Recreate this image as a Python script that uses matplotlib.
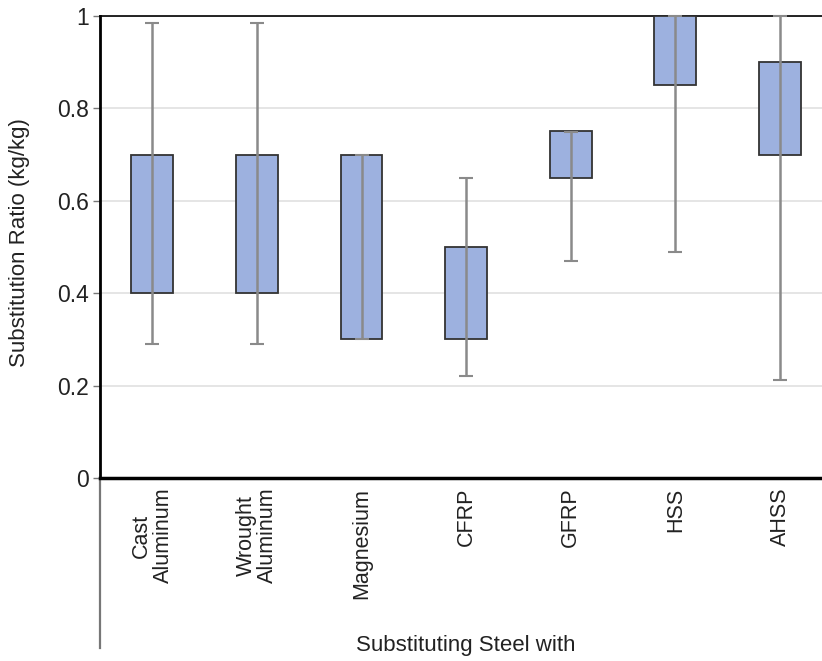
import matplotlib
matplotlib.use("Agg")
import matplotlib.pyplot as plt
from matplotlib.lines import Line2D
import numpy as np

plt.rcParams['font.family'] = ['Liberation Sans', 'DejaVu Sans']

# data
categories = ["Cast\nAluminum", "Wrought\nAluminum", "Magnesium", "CFRP", "GFRP", "HSS", "AHSS"]
box_low = [0.40, 0.40, 0.30, 0.30, 0.65, 0.85, 0.70]
box_high = [0.70, 0.70, 0.70, 0.50, 0.75, 1.00, 0.90]
whisk_low = [0.29, 0.29, 0.30, 0.22, 0.47, 0.49, 0.213]
whisk_high = [0.985, 0.985, 0.70, 0.65, 0.75, 1.00, 1.00]

x = np.arange(len(categories))
lo = np.array(box_low)
hi = np.array(box_high)

fig = plt.figure(figsize=(8.22, 6.61), dpi=100)
ax = fig.add_axes([100/822, 1 - 478/661, 1 - 100/822, 462/661])

ax.bar(x, hi - lo, bottom=lo, width=0.40, color="#9db1df",
       edgecolor="#333333", linewidth=1.3, zorder=3)

mid = (lo + hi) / 2
ax.errorbar(x, mid, yerr=[mid - np.array(whisk_low), np.array(whisk_high) - mid],
            fmt="none", ecolor="#8a8a8a", elinewidth=1.8, capsize=5, capthick=1.5,
            zorder=4, clip_on=False)

ax.set_ylim(0, 1)
ax.set_xlim(-0.5, (822 - 152) / 104.67)
ax.set_yticks([0, 0.2, 0.4, 0.6, 0.8, 1])
ax.set_yticklabels(["0", "0.2", "0.4", "0.6", "0.8", "1"])
ax.yaxis.grid(True, color="#e3e3e3", linewidth=1.3, zorder=0)
ax.set_axisbelow(True)

ax.set_xticks(x)
ax.set_xticklabels(categories, rotation=90, va="top", ha="center",
                   multialignment="center", linespacing=1.05)
ax.tick_params(axis="x", length=0, pad=7, labelsize=15.5, colors="#222222")
ax.tick_params(axis="y", length=5, width=1, color="#777777", labelsize=16.5,
               labelcolor="#222222", pad=3)

ax.spines["right"].set_visible(False)
ax.spines["top"].set_linewidth(1.2)
ax.spines["left"].set_linewidth(2)
ax.spines["bottom"].set_linewidth(2.5)

# left axis line carried down past the category labels
ax.add_line(Line2D([0, 0], [0, -170/462], transform=ax.transAxes,
                   color="#777777", linewidth=1.6, clip_on=False))

fig.text(20/822, 1 - 243/661, "Substitution Ratio (kg/kg)", rotation=90,
         ha="center", va="center", fontsize=16, color="#222222")
fig.text(466/822, 1 - 645/661, "Substituting Steel with",
         ha="center", va="center", fontsize=16, color="#222222")

fig.savefig("out.png", dpi=100)
